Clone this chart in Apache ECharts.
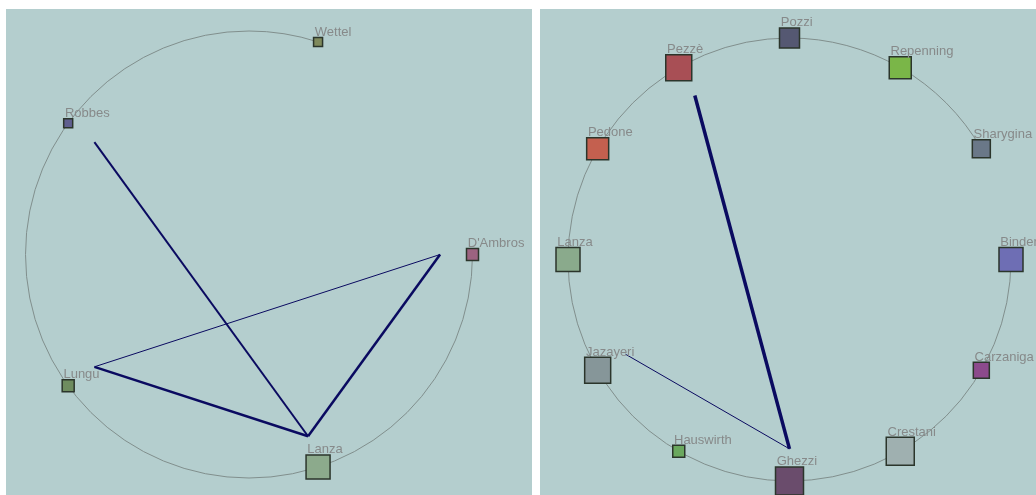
<!DOCTYPE html>
<html>
<head>
<meta charset="utf-8">
<script src="https://cdn.jsdelivr.net/npm/echarts@6/dist/echarts.min.js"></script>
<style>
  html, body { margin: 0; padding: 0; background: #fff; width: 1036px; height: 495px; overflow: hidden; }
  .panel { position: absolute; top: 9px; width: 526px; height: 486px; }
  #left { left: 6px; }
  #right { left: 540px; }
</style>
</head>
<body>
<div id="left" class="panel"></div>
<div id="right" class="panel"></div>
<script>
// left network: names in circle order (alphabetical, clockwise from 3 o'clock)
const leftNames = ["D'Ambros", 'Lanza', 'Lungu', 'Robbes', 'Wettel']
const leftSizes = [12, 24, 12, 9, 9]
const leftColors = ['#9c6380', '#8caa8c', '#6e8c5f', '#5f5f8f', '#7f8a5c']
// [source, target, weight]
const leftLinks = [
  ['Robbes', 'Lanza', 2],
  ['Lungu', 'Lanza', 2.5],
  ['Lungu', "D'Ambros", 1],
  ['Lanza', "D'Ambros", 2.5],
]

// right network
const rightNames = ['Binder', 'Carzaniga', 'Crestani', 'Ghezzi', 'Hauswirth', 'Jazayeri',
  'Lanza', 'Pedone', 'Pezzè', 'Pozzi', 'Repenning', 'Sharygina']
const rightSizes = [24, 16, 28, 28, 12, 26, 24, 22, 26, 20, 22, 18]
const rightColors = ['#6e6eb4', '#8c4a8c', '#9fb0b0', '#6a4c6c', '#6aa85e', '#869699',
  '#8aaa8c', '#c4604f', '#a84f55', '#555872', '#7ab648', '#6a7888']
const rightLinks = [
  ['Pezzè', 'Ghezzi', 3.5],
  ['Jazayeri', 'Ghezzi', 1],
]

const NODE_R = 1
const EDGE_R = 0.855

function buildOption(names, sizes, colors, links, center, radius) {
  return {
    backgroundColor: '#b4cece',
    animation: false,
    polar: { center: center, radius: radius },
    angleAxis: {
      type: 'category',
      data: names,
      startAngle: 0,
      clockwise: true,
      boundaryGap: false,
      axisLine: { show: true, lineStyle: { color: '#818f8d', width: 1 } },
      axisTick: { show: false },
      axisLabel: { show: false },
      splitLine: { show: false },
    },
    radiusAxis: {
      type: 'value',
      min: 0,
      max: 1,
      show: false,
      splitLine: { show: false },
    },
    series: [
      {
        // edge anchors sit a bit inside the ring
        type: 'graph',
        coordinateSystem: 'polar',
        layout: 'none',
        silent: true,
        z: 1,
        symbolSize: 0,
        label: { show: false },
        data: names.map((n, i) => ({ name: n, value: [EDGE_R, i] })),
        links: links.map(([s, t, w]) => ({
          source: s,
          target: t,
          lineStyle: { width: w },
        })),
        lineStyle: { color: '#0a0a60', opacity: 1, curveness: 0 },
      },
      {
        type: 'graph',
        coordinateSystem: 'polar',
        layout: 'none',
        z: 2,
        symbol: 'rect',
        data: names.map((n, i) => ({
          name: n,
          value: [NODE_R, i],
          symbolSize: sizes[i],
          itemStyle: { color: colors[i] },
        })),
        links: [],
        itemStyle: { borderColor: '#2b352b', borderWidth: 1.5 },
        label: {
          show: true,
          position: [2, -11],
          color: '#878a8a',
          fontSize: 13,
          fontFamily: 'Liberation Sans',
          formatter: '{b}',
        },
      },
    ],
  }
}

const leftChart = echarts.init(document.getElementById('left'), undefined, { renderer: 'canvas' })
leftChart.setOption(buildOption(leftNames, leftSizes, leftColors, leftLinks, [243, 245.5], 223.5))

const rightChart = echarts.init(document.getElementById('right'), undefined, { renderer: 'canvas' })
rightChart.setOption(buildOption(rightNames, rightSizes, rightColors, rightLinks, [249.5, 250.5], 221.5))
</script>
</body>
</html>
